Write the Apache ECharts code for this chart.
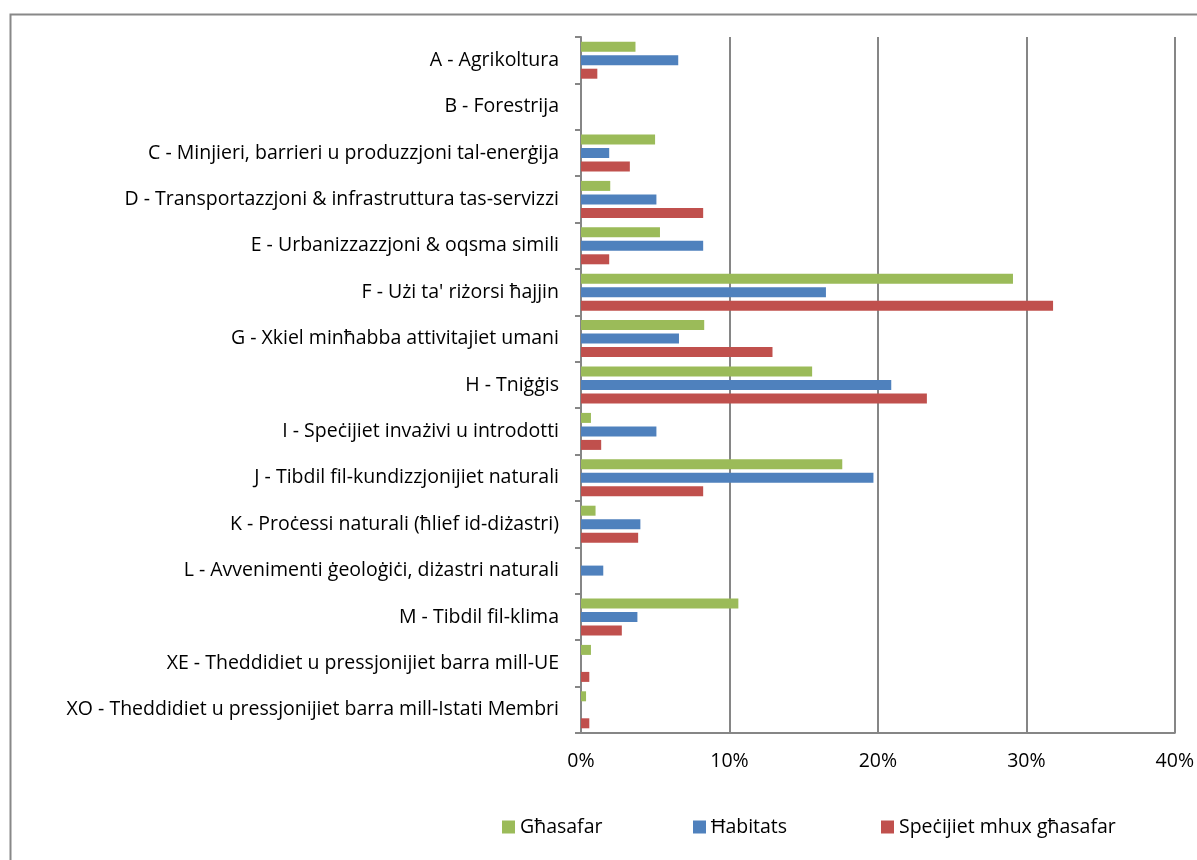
<!DOCTYPE html>
<html>
<head>
<meta charset="utf-8">
<script src="https://cdn.jsdelivr.net/npm/echarts@6/dist/echarts.min.js"></script>
<style>html,body{margin:0;padding:0;background:#fff}#c{width:1197px;height:860px}</style>
</head>
<body>
<div id="c"></div>
<script>
const categories = [
  "A - Agrikoltura",
  "B - Forestrija",
  "C - Minjieri, barrieri u produzzjoni tal-enerġija",
  "D - Transportazzjoni & infrastruttura tas-servizzi",
  "E - Urbanizzazzjoni & oqsma simili",
  "F - Użi ta' riżorsi ħajjin",
  "G - Xkiel minħabba attivitajiet umani",
  "H - Tniġġis",
  "I - Speċijiet invażivi u introdotti",
  "J - Tibdil fil-kundizzjonijiet naturali",
  "K - Proċessi naturali (ħlief id-diżastri)",
  "L - Avvenimenti ġeoloġiċi, diżastri naturali",
  "M - Tibdil fil-klima",
  "XE - Theddidiet u pressjonijiet barra mill-UE",
  "XO - Theddidiet u pressjonijiet barra mill-Istati Membri"
];
const seriesNames = ["Għasafar", "Ħabitats", "Speċijiet mhux għasafar"];
const birds   = [3.67, 0, 4.99, 1.97, 5.32, 29.1, 8.3, 15.57, 0.67, 17.6, 0.98, 0, 10.6, 0.67, 0.34];
const habitats = [6.55, 0, 1.9, 5.08, 8.23, 16.5, 6.6, 20.9, 5.08, 19.7, 4.0, 1.5, 3.8, 0, 0];
const species = [1.1, 0, 3.29, 8.23, 1.9, 31.8, 12.9, 23.3, 1.36, 8.23, 3.85, 0, 2.75, 0.56, 0.56];
const xTicks = [0, 10, 20, 30, 40];

const colors = ["#9BBB59", "#4F81BD", "#C0504D"];
const font = "'Open Sans', sans-serif";
const fs = 19.5;
const chart = echarts.init(document.getElementById('c'));
const mk = (name, data, i) => ({
  name, type: 'bar', data: data.map(v => v === 0 ? null : v),
  barWidth: 10, barGap: '35%',
  itemStyle: { color: colors[i] }
});
const legendLefts = [497, 688, 876];
chart.setOption({
  animation: false,
  textStyle: { fontFamily: font },
  graphic: [{
    type: 'rect', left: 8, top: 12,
    shape: { width: 1250, height: 900 },
    style: { fill: 'none', stroke: '#888888', lineWidth: 2 }, silent: true
  }],
  grid: { left: 581, right: 22, top: 37, bottom: 127, containLabel: false },
  xAxis: {
    type: 'value', min: xTicks[0], max: xTicks[xTicks.length - 1], interval: 10,
    axisLabel: { formatter: v => v + '%', fontSize: fs, color: '#000', margin: 18, fontFamily: font },
    axisLine: { show: true, lineStyle: { color: '#868686', width: 2 } },
    axisTick: { show: false },
    splitLine: { show: true, lineStyle: { color: '#868686', width: 2 } }
  },
  yAxis: {
    type: 'category', data: categories, inverse: true,
    axisLabel: { fontSize: fs, color: '#000', margin: 22, fontFamily: font },
    axisLine: { show: true, lineStyle: { color: '#868686', width: 2 } },
    axisTick: { show: true, length: 6, lineStyle: { color: '#868686', width: 2 } }
  },
  legend: seriesNames.map((n, i) => ({
    left: legendLefts[i], top: 812, itemWidth: 13, itemHeight: 13, itemGap: 6,
    icon: 'rect',
    textStyle: { fontSize: fs, color: '#000', fontFamily: font },
    data: [n]
  })),
  series: [mk(seriesNames[0], birds, 0), mk(seriesNames[1], habitats, 1), mk(seriesNames[2], species, 2)]
});
</script>
</body>
</html>
